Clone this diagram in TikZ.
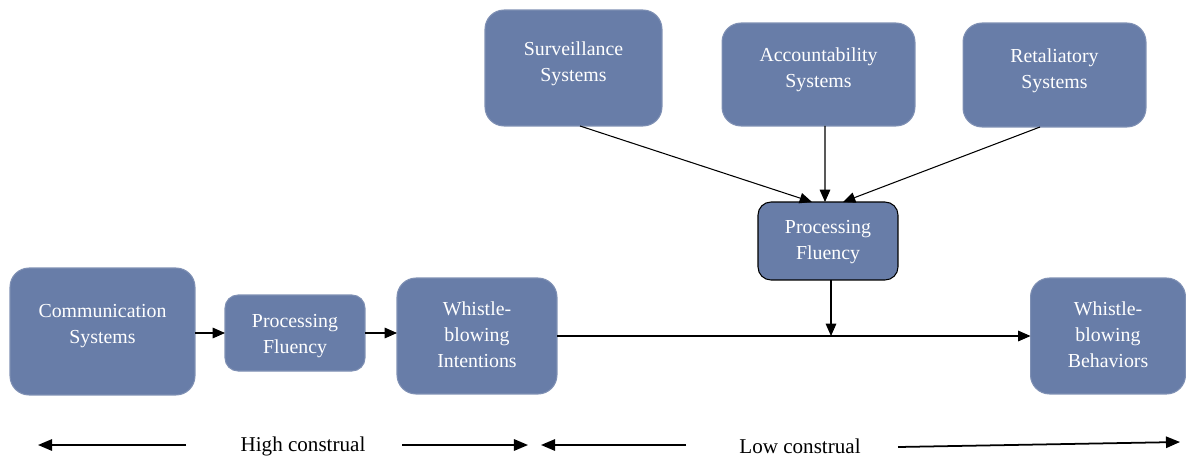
\documentclass[tikz,border=0pt]{standalone}
\usepackage{fontspec}
\setmainfont{Liberation Serif}
\usetikzlibrary{arrows.meta}
\definecolor{boxblue}{HTML}{687DA8}
\definecolor{boxedge}{HTML}{7F90B4}
\begin{document}
\begin{tikzpicture}[x=0.02cm,y=-0.02cm,
  box/.style={draw=boxedge,line width=0.6pt,fill=boxblue,rounded corners=0.38cm,inner sep=0pt,outer sep=0pt},
  lbl/.style={text=white,align=center,font=\fontsize{11.3}{14.8}\selectfont,inner sep=0pt},
  arr/.style={-{Triangle[length=7pt,width=6pt]},line width=0.6pt,black},
  axisarr/.style={-{Triangle[length=8pt,width=6.5pt]},line width=1pt,black},
  bot/.style={font=\fontsize{12}{14}\selectfont,inner sep=0pt}]
\useasboundingbox (0,0) rectangle (1186,457);
% boxes
\node[box,minimum width=3.7cm,minimum height=2.54cm] (comm) at (102.5,331.5) {};
\node[lbl] (commt) at (102.5,326) {Communication\\Systems};
\node[box,minimum width=2.8cm,minimum height=1.52cm,rounded corners=0.26cm] (pf1) at (295,333) {};
\node[lbl] (pf1t) at (295,336) {Processing\\Fluency};
\node[box,minimum width=3.2cm,minimum height=2.32cm] (wi) at (477,336) {};
\node[lbl] (wit) at (477,335) {Whistle-\\blowing\\Intentions};
\node[box,minimum width=3.1cm,minimum height=2.32cm] (wb) at (1108,336) {};
\node[lbl] (wbt) at (1108,335) {Whistle-\\blowing\\Behaviors};
\node[box,draw=black,minimum width=2.8cm,minimum height=1.56cm,rounded corners=0.26cm] (pf2) at (828,241) {};
\node[lbl] (pf2t) at (828,242) {Processing\\Fluency};
\node[box,minimum width=3.54cm,minimum height=2.32cm] (surv) at (573.5,68) {};
\node[lbl] (survt) at (573.5,64) {Surveillance\\Systems};
\node[box,minimum width=3.86cm,minimum height=2.06cm] (acc) at (818.5,74.5) {};
\node[lbl] (acct) at (818.5,70) {Accountability\\Systems};
\node[box,minimum width=3.66cm,minimum height=2.08cm] (ret) at (1054.5,75) {};
\node[lbl] (rett) at (1054.5,71) {Retaliatory\\Systems};
% connectors
\draw[arr] (pf1.west -| comm.east) -- (pf1.west);
\draw[arr] (pf1.east) -- (pf1.east -| wi.west);
\draw[arr] (wi.east) -- (wb.west);
\coordinate (j) at (831,336);
\draw[arr] (j |- pf2.south) -- (j);
\draw[arr] ([xshift=0.13cm]surv.south) -- ([xshift=-0.32cm]pf2.north);
\draw[arr] ([xshift=0.13cm]acc.south) -- ([xshift=-0.06cm]pf2.north);
\draw[arr] ([xshift=-0.29cm]ret.south) -- ([xshift=0.3cm]pf2.north);
% construal axis
\node[bot] (high) at (303,446) {High construal};
\node[bot] (low) at (800,446) {Low construal};
\coordinate (h0) at (38,445);
\coordinate (h1) at (186,445);
\coordinate (h2) at (402,445);
\coordinate (h3) at (528,445);
\coordinate (l0) at (541,445);
\coordinate (l1) at (686,445);
\coordinate (l2) at (898,447);
\coordinate (l3) at (1180,442);
\draw[axisarr] (h1) -- (h0);
\draw[axisarr] (h2) -- (h3);
\draw[axisarr] (l1) -- (l0);
\draw[axisarr] (l2) -- (l3);
\end{tikzpicture}
\end{document}
